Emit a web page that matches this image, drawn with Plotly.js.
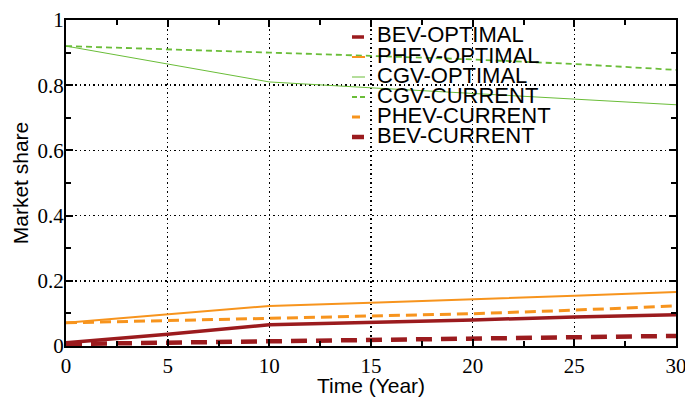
<!DOCTYPE html>
<html><head><meta charset="utf-8">
<script src="https://cdn.plot.ly/plotly-3.0.1.min.js"></script>
<style>body{margin:0;padding:0;background:#fff}#chart{width:685px;height:397px}</style>
</head><body><div id="chart"></div>
<script>
const years = [0, 5, 10, 15, 20, 25, 30];
const bevOptimal  = [0.010, 0.036, 0.065, 0.072, 0.080, 0.089, 0.096];
const phevOptimal = [0.071, 0.096, 0.123, 0.133, 0.143, 0.154, 0.166];
const cgvOptimal  = [0.920, 0.866, 0.810, 0.792, 0.775, 0.757, 0.740];
const cgvCurrent  = [0.920, 0.911, 0.900, 0.890, 0.879, 0.865, 0.847];
const phevCurrent = [0.071, 0.078, 0.086, 0.092, 0.099, 0.110, 0.123];
const bevCurrent  = [0.006, 0.010, 0.014, 0.017, 0.021, 0.025, 0.031];
const names = ['BEV-OPTIMAL','PHEV-OPTIMAL','CGV-OPTIMAL','CGV-CURRENT','PHEV-CURRENT','BEV-CURRENT'];

const red = '#9b1b1e', orange = '#f7941d', green = '#6abd38';
const styles = [
  {color:red, width:3.5},
  {color:orange, width:2},
  {color:green, width:1},
  {color:green, width:1.8, dash:'6px,4px'},
  {color:orange, width:3, dash:'11px,6px'},
  {color:red, width:4.5, dash:'16px,9px'}
];
const series = [bevOptimal, phevOptimal, cgvOptimal, cgvCurrent, phevCurrent, bevCurrent];
const traces = series.map((s, i) => ({x: years, y: s, name: names[i], type:'scatter', mode:'lines', line: styles[i]}));

// plot area geometry (px)
const W = 685, H = 397, L = 66, R = 9, T = 20, B = 51;
const pw = W - L - R, ph = H - T - B;
const px = v => (v - L) / pw;
const py = v => (H - B - v) / ph;

// custom legend (tight row spacing like the original)
const legendAnn = [], legendShapes = [];
const symLen = [12, 13, 13, 16, 8, 12];
names.forEach((n, i) => {
  const yc = 35 + 20 * i;
  legendAnn.push({xref:'paper', yref:'paper', x: px(376), y: py(yc), xanchor:'left', yanchor:'middle',
    text: n, showarrow:false, borderpad:0, font:{family:'Liberation Sans, Arial, sans-serif', size:22, color:'#000'}});
  const st = styles[i];
  legendShapes.push({type:'line', xref:'paper', yref:'paper', x0: px(352), x1: px(352 + symLen[i]),
    y0: py(yc + 2), y1: py(yc + 2), line:{color: st.color, width: st.width, dash: i === 3 ? '5px,3px' : 'solid'}});
});

const axisCommon = {
  showline:true, linecolor:'#000', linewidth:2, mirror:'allticks',
  ticks:'inside', ticklen:7, tickwidth:2, tickcolor:'#000',
  showgrid:true, gridcolor:'#000', gridwidth:1.5, griddash:'1.5px,3px',
  zeroline:false, layer:'above traces', ticklabeloverflow:'allow',
  tickfont:{family:'Liberation Serif, Times New Roman, serif', size:21, color:'#000'}
};
const titleFont = {family:'Liberation Sans, Arial, sans-serif', size:21, color:'#000'};
const layout = {
  width:W, height:H,
  margin:{l:L, r:R, t:T, b:B},
  paper_bgcolor:'#fff', plot_bgcolor:'#fff',
  showlegend:false,
  annotations: legendAnn,
  shapes: legendShapes,
  xaxis: Object.assign({}, axisCommon, {range:[0,30], dtick:5, tick0:0, ticklabelstandoff:0,
    minor:{ticks:'inside', dtick:2.5, ticklen:5, tickwidth:2, tickcolor:'#000', showgrid:false},
    title:{text:'Time (Year)', standoff:6, font:titleFont}}),
  yaxis: Object.assign({}, axisCommon, {range:[0,1], dtick:0.2, tick0:0, ticklabelstandoff:-4,
    minor:{ticks:'inside', dtick:0.1, ticklen:5, tickwidth:2, tickcolor:'#000', showgrid:false},
    title:{text:'Market share', standoff:3, font:titleFont}})
};
Plotly.newPlot('chart', traces, layout, {displayModeBar:false, staticPlot:true});
</script></body></html>
